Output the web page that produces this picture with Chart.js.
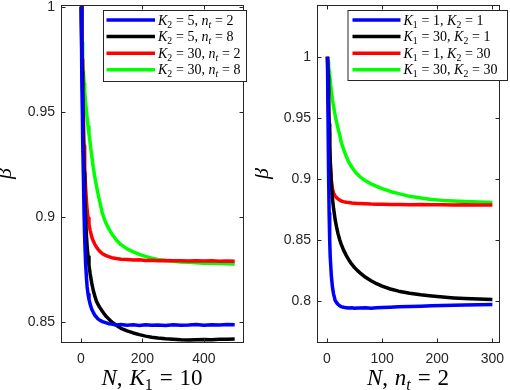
<!DOCTYPE html>
<html><head><meta charset="utf-8">
<script src="https://cdn.jsdelivr.net/npm/chart.js@4"></script>
<style>
html,body{margin:0;padding:0;background:#fff;width:510px;height:390px;overflow:hidden}
.c{position:absolute;top:0;width:255px;height:390px}
</style></head><body>
<div class="c" style="left:0"><canvas id="c1" width="255" height="390"></canvas></div>
<div class="c" style="left:255px"><canvas id="c2" width="255" height="390"></canvas></div>
<script>
// ---------- data: left panel (K1 = 10) ----------
const leftN = [1,2,3,4,5,6,8,10,12,15,18,20,23,26,30,35,40,45,50,55,60,70,80,90,100,115,130,150,170,190,210,230,250,275,300,325,350,375,400,425,450,475,500];
const leftBlue  = [1.0,0.985,0.970,0.958,0.947,0.937,0.918,0.902,0.890,0.878,0.8705,0.8668,0.8632,0.8608,0.8584,0.8561,0.8546,0.8532,0.8524,0.8515,0.8510,0.8502,0.8497,0.8492,0.8490,0.8486,0.8488,0.8485,0.8487,0.8484,0.8487,0.8485,0.8486,0.8484,0.8487,0.8485,0.8486,0.8488,0.8485,0.8487,0.8486,0.8488,0.8487];
const leftBlack = [1.0,0.990,0.979,0.969,0.959,0.950,0.934,0.921,0.911,0.899,0.8905,0.886,0.881,0.877,0.8728,0.8685,0.865,0.8624,0.8600,0.8585,0.8572,0.8550,0.8530,0.8515,0.8500,0.8485,0.8470,0.8458,0.8448,0.8440,0.8433,0.8428,0.8424,0.8420,0.8418,0.8416,0.8415,0.8416,0.8417,0.8416,0.8418,0.8418,0.8419];
const leftRed   = [1.0,0.992,0.983,0.975,0.967,0.960,0.946,0.934,0.924,0.914,0.907,0.9035,0.8995,0.8965,0.8935,0.8905,0.8885,0.887,0.8857,0.8847,0.8838,0.8825,0.8817,0.8811,0.8806,0.8802,0.8799,0.8797,0.8795,0.8796,0.8793,0.8794,0.8792,0.8793,0.8791,0.8792,0.8790,0.8791,0.8790,0.8791,0.8789,0.8790,0.8789];
const leftGreen = [1.0,0.994,0.988,0.983,0.979,0.975,0.969,0.9635,0.9595,0.9545,0.950,0.947,0.943,0.9395,0.935,0.929,0.9235,0.919,0.915,0.9113,0.908,0.9015,0.8975,0.8945,0.892,0.889,0.8868,0.8848,0.8834,0.8822,0.8812,0.8804,0.8798,0.8793,0.8789,0.8786,0.8784,0.8782,0.8780,0.8779,0.8778,0.8777,0.8776];
const leftLegend = ["K_2 = 5, n_t = 2","K_2 = 5, n_t = 8","K_2 = 30, n_t = 2","K_2 = 30, n_t = 8"];
const leftXTicks = [0,200,400];
const leftYTicks = [0.85,0.9,0.95,1];
const leftXTitle = "N, K_1 = 10";

// ---------- data: right panel (n_t = 2) ----------
const rightN = [1,2,3,4,5,6,8,10,12,15,18,20,23,26,30,35,40,45,50,55,60,70,80,90,100,115,130,150,170,190,210,230,250,275,300];
const rightBlue  = [1.0,0.95,0.905,0.872,0.85,0.836,0.821,0.8115,0.806,0.8005,0.7985,0.7975,0.7963,0.7955,0.795,0.7947,0.7944,0.7946,0.7943,0.7945,0.7944,0.7946,0.7943,0.7947,0.7949,0.7951,0.7954,0.7957,0.7959,0.7962,0.7964,0.7966,0.7968,0.7970,0.7972];
const rightBlack = [1.0,0.985,0.965,0.945,0.928,0.915,0.896,0.884,0.876,0.8665,0.8595,0.8555,0.8505,0.8465,0.842,0.8375,0.8335,0.8303,0.8275,0.8252,0.8232,0.8195,0.8167,0.8143,0.8123,0.8100,0.8082,0.8065,0.8052,0.8042,0.8034,0.8027,0.8022,0.8017,0.8013];
const rightRed   = [1.0,0.975,0.955,0.938,0.924,0.912,0.899,0.892,0.8885,0.886,0.8845,0.8838,0.8828,0.882,0.8815,0.881,0.8807,0.8804,0.8802,0.8800,0.8799,0.8797,0.8795,0.8794,0.8793,0.8792,0.8791,0.8790,0.8791,0.8789,0.8790,0.8788,0.8789,0.8787,0.8787];
const rightGreen = [1.0,0.996,0.992,0.988,0.984,0.980,0.972,0.965,0.9595,0.952,0.9455,0.9415,0.9365,0.930,0.9245,0.9185,0.9135,0.9098,0.9065,0.904,0.9018,0.8985,0.896,0.894,0.8922,0.8898,0.888,0.8858,0.8845,0.8833,0.8825,0.882,0.8816,0.8812,0.8808];
const rightLegend = ["K_1 = 1, K_2 = 1","K_1 = 30, K_2 = 1","K_1 = 1, K_2 = 30","K_1 = 30, K_2 = 30"];
const rightXTicks = [0,100,200,300];
const rightYTicks = [0.8,0.85,0.9,0.95,1];
const rightXTitle = "N, n_t = 2";
const yTitle = "\u03b2";

const seriesColors = ['#0000ff','#000000','#ff0000','#00ff00'];
const AX = '#262626';

function drawMath(ctx, str, x, y, size, align, spaceEm){
  const fam = '"Liberation Serif", "DejaVu Serif", serif';
  const segs = [];
  for (let i=0;i<str.length;i++){
    let ch=str[i], sub=false;
    if (ch==='_'){ sub=true; ch=str[++i]; }
    segs.push({ch, sub});
  }
  const fontFor = s => {
    const it = /[A-Za-z\u03b2]/.test(s.ch);
    const sz = s.sub ? size*0.7 : size;
    return (it?'italic ':'') + sz.toFixed(2) + 'px ' + fam;
  };
  let total = 0;
  segs.forEach(s => {
    if (s.ch===' ') s.w = size*spaceEm;
    else { ctx.font = fontFor(s); s.w = ctx.measureText(s.ch).width; }
    total += s.w;
  });
  let cx = align==='center' ? x-total/2 : x;
  ctx.textAlign='left'; ctx.textBaseline='alphabetic';
  segs.forEach(s => {
    if (s.ch!==' '){ ctx.font=fontFor(s); ctx.fillText(s.ch, cx, y + (s.sub ? size*0.22 : 0)); }
    cx += s.w;
  });
}

const matlabPlugin = {
  id:'matlab',
  afterDraw(chart, args, o){
    const ctx=chart.ctx, a=chart.chartArea, xs=chart.scales.x, ys=chart.scales.y;
    ctx.save();
    ctx.strokeStyle=AX; ctx.lineWidth=1;
    const L0=Math.round(a.left)+0.5, T0=Math.round(a.top)+0.5, R0=Math.round(a.right)+0.5, B0=Math.round(a.bottom)+0.5;
    ctx.strokeRect(L0,T0,R0-L0,B0-T0);
    const tl=4;
    ctx.beginPath();
    o.xTicks.forEach(v=>{const p=Math.round(xs.getPixelForValue(v))+0.5; ctx.moveTo(p,B0); ctx.lineTo(p,B0-tl); ctx.moveTo(p,T0); ctx.lineTo(p,T0+tl);});
    o.yTicks.forEach(v=>{const p=Math.round(ys.getPixelForValue(v))+0.5; ctx.moveTo(L0,p); ctx.lineTo(L0+tl,p); ctx.moveTo(R0,p); ctx.lineTo(R0-tl,p);});
    ctx.stroke();
    // legend
    const L=o.legend;
    ctx.fillStyle='#fff'; ctx.fillRect(L.x,L.y,L.w,L.h);
    ctx.strokeStyle=AX; ctx.lineWidth=1; ctx.strokeRect(L.x+0.5,L.y+0.5,L.w,L.h);
    chart.data.datasets.forEach((ds,i)=>{
      const cy=L.y+L.first+i*L.step;
      ctx.strokeStyle=ds.borderColor; ctx.lineWidth=3.5; ctx.lineCap='butt';
      ctx.beginPath(); ctx.moveTo(L.x+L.lineStart,cy); ctx.lineTo(L.x+L.lineEnd,cy); ctx.stroke();
      ctx.fillStyle='#000';
      drawMath(ctx, ds.label, L.x+L.textX, cy+L.base, L.size, 'left', 0.26);
    });
    ctx.fillStyle='#000';
    drawMath(ctx, o.xTitle, (a.left+a.right)/2, o.xTitleY, o.titleSize, 'center', 0.3);
    ctx.save();
    ctx.translate(o.yTitleX,(a.top+a.bottom)/2); ctx.rotate(-Math.PI/2);
    drawMath(ctx, o.yTitle, 0, 0, o.yTitleSize, 'center', 0.3);
    ctx.restore();
    ctx.restore();
  }
};

function makeChart(id, xs, series, labels, xr, yr, xTicks, yTicks, yWidth, padRight, xTitle, legend, yTitleX){
  const datasets = series.map((ys,i)=>({
    label: labels[i],
    data: xs.map((x,j)=>({x, y: ys[j]})),
    borderColor: seriesColors[i],
    backgroundColor: seriesColors[i],
    borderWidth: 3.5,
    pointRadius: 0,
    tension: 0,
    borderJoinStyle: 'round',
    fill: false
  }));
  const tickFont = {family:'"Liberation Sans", Arial, sans-serif', size:14};
  return new Chart(document.getElementById(id), {
    type:'line',
    data:{datasets},
    options:{
      responsive:false, animation:false, devicePixelRatio:1,
      layout:{padding:{top:5,right:padRight,left:0,bottom:0}},
      plugins:{legend:{display:false}, tooltip:{enabled:false},
        matlab:{xTicks, yTicks, xTitle, yTitle, titleSize:23, yTitleSize:22, xTitleY:385, yTitleX, legend}},
      scales:{
        x:{type:'linear', min:xr[0], max:xr[1],
           afterBuildTicks:s=>{s.ticks=xTicks.map(v=>({value:v}));},
           afterFit:s=>{s.height=48; s.paddingLeft=0; s.paddingRight=0;},
           grid:{display:false, drawTicks:false}, border:{display:false},
           ticks:{font:tickFont, color:AX, padding:9, maxRotation:0, autoSkip:false, callback:v=>String(v)}},
        y:{type:'linear', min:yr[0], max:yr[1],
           afterBuildTicks:s=>{s.ticks=yTicks.map(v=>({value:v}));},
           afterFit:s=>{s.width=yWidth; s.paddingTop=0; s.paddingBottom=0;},
           grid:{display:false, drawTicks:false}, border:{display:false},
           ticks:{font:tickFont, color:AX, padding:6, autoSkip:false, callback:v=>String(v)}}
      }
    },
    plugins:[matlabPlugin]
  });
}

makeChart('c1', leftN, [leftBlue,leftBlack,leftRed,leftGreen], leftLegend,
  [-65,527], [0.8405,1.0008], leftXTicks, leftYTicks, 61, 12, leftXTitle,
  {x:103, y:10, w:143, h:71, first:10, step:16.6, lineStart:3.5, lineEnd:52, textX:55, base:4.5, size:14}, 11);
makeChart('c2', rightN, [rightBlue,rightBlack,rightRed,rightGreen], rightLegend,
  [-18,312], [0.7666,1.0424], rightXTicks, rightYTicks, 62, 11, rightXTitle,
  {x:92.5, y:10, w:159.5, h:70, first:10, step:16.6, lineStart:5, lineEnd:53, textX:56, base:4.5, size:14}, 13);
</script>
</body></html>
